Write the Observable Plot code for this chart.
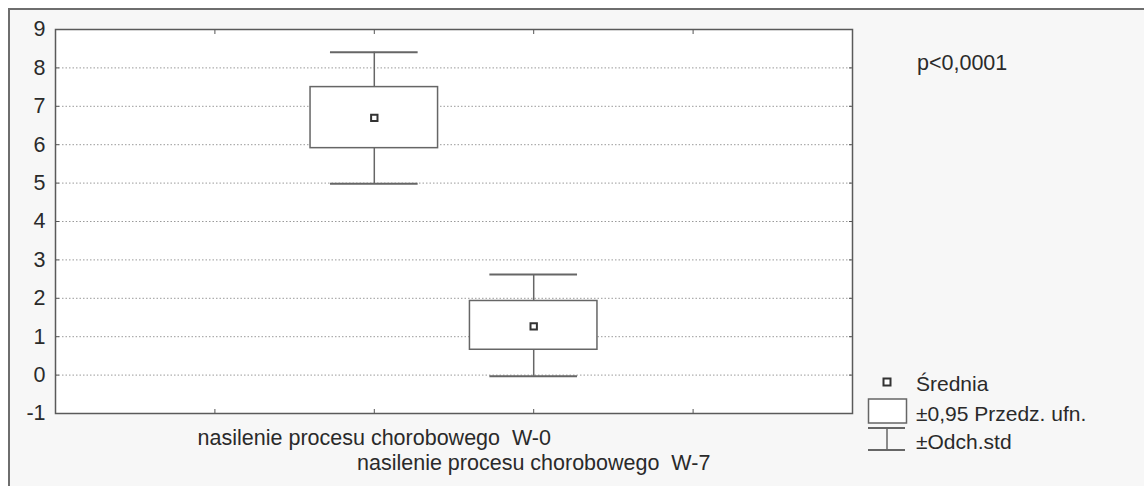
<!DOCTYPE html>
<html>
<head>
<meta charset="utf-8">
<script src="https://cdn.jsdelivr.net/npm/d3@7"></script>
<script src="https://cdn.jsdelivr.net/npm/@observablehq/plot@0.6"></script>
<style>
  html, body { margin: 0; padding: 0; background: #ffffff; }
  body { width: 1144px; height: 486px; position: relative; overflow: hidden; font-family: "Liberation Sans", Arial, sans-serif; }
  #frame { position: absolute; left: 8px; top: 8px; width: 1140px; height: 482px; background: #f7f7f7; border-left: 2px solid #6e6e6e; border-top: 2px solid #6e6e6e; }
  #chart { position: absolute; left: 0; top: 0; }
  #chart svg { background: transparent !important; }
  .note { position: absolute; font-size: 21.5px; color: #2a2a2a; white-space: nowrap; line-height: 1; }
  #legend { position: absolute; left: 864px; top: 370px; }
  .lg { position: absolute; white-space: nowrap; font-size: 21px; color: #2a2a2a; line-height: 1; }
</style>
</head>
<body>
<div id="frame"></div>
<div id="chart"></div>
<div class="note" style="left:917px; top:53px;">p&lt;0,0001</div>
<div id="legend"></div>
<script>
// ---- data ----
const categories = ["nasilenie procesu chorobowego  W-0", "nasilenie procesu chorobowego  W-7"];
const means  = [6.70, 1.27];
const ciLow  = [5.91, 0.66];
const ciHigh = [7.50, 1.93];
const sdLow  = [4.98, -0.03];
const sdHigh = [8.41, 2.62];
const yTicks = [-1, 0, 1, 2, 3, 4, 5, 6, 7, 8, 9];
const xSlots = [1, 2, 3, 4];
const legendLabels = ["Średnia", "±0,95 Przedz. ufn.", "±Odch.std"];

const rows = categories.map((c, i) => ({
  cat: c, pos: i + 2, mean: means[i], lo: ciLow[i], hi: ciHigh[i], sdLo: sdLow[i], sdHi: sdHigh[i], line: i
}));

const lineColor = "#666666";
const tickColor = "#555555";
const boxHalf = 0.4, capHalf = 0.275;

const chart = Plot.plot({
  width: 1144,
  height: 486,
  marginLeft: 55,
  marginRight: 292,
  marginTop: 29,
  marginBottom: 73,
  style: { fontFamily: "'Liberation Sans', Arial, sans-serif", fontSize: "21px", color: "#2a2a2a", background: "transparent" },
  x: { domain: [0, 5], axis: null },
  y: { domain: [-1, 9], axis: null },
  marks: [
    Plot.frame({ fill: "white", stroke: null }),
    Plot.gridY(yTicks.filter(d => d > -1 && d < 9), { stroke: "#9a9a9a", strokeOpacity: 1, strokeDasharray: "1.5,2", strokeWidth: 1 }),
    // y tick labels
    Plot.axisY(yTicks, { anchor: "left", tickSize: 0, tickPadding: 10, fontSize: 21.5, fill: "#2a2a2a", tickFormat: d => String(d), label: null }),
    // inward ticks
    Plot.axisY(yTicks, { anchor: "left", tickSize: 4, dx: 4, tickFormat: () => "", stroke: tickColor, label: null }),
    Plot.axisY(yTicks, { anchor: "right", tickSize: 4, dx: -4, tickFormat: () => "", stroke: tickColor, label: null }),
    Plot.axisX(xSlots, { anchor: "bottom", tickSize: 4, dy: -4, tickFormat: () => "", stroke: tickColor, label: null }),
    Plot.axisX(xSlots, { anchor: "top", tickSize: 4, dy: 4, tickFormat: () => "", stroke: tickColor, label: null }),
    // whiskers
    Plot.ruleX(rows, { x: "pos", y1: "hi", y2: "sdHi", stroke: lineColor, strokeWidth: 1.5 }),
    Plot.ruleX(rows, { x: "pos", y1: "sdLo", y2: "lo", stroke: lineColor, strokeWidth: 1.5 }),
    Plot.ruleY(rows, { y: "sdHi", x1: d => d.pos - capHalf, x2: d => d.pos + capHalf, stroke: lineColor, strokeWidth: 2 }),
    Plot.ruleY(rows, { y: "sdLo", x1: d => d.pos - capHalf, x2: d => d.pos + capHalf, stroke: lineColor, strokeWidth: 2 }),
    // CI box
    Plot.rect(rows, { x1: d => d.pos - boxHalf, x2: d => d.pos + boxHalf, y1: "lo", y2: "hi", fill: "white", stroke: lineColor, strokeWidth: 1.5 }),
    // mean
    Plot.dot(rows, { x: "pos", y: "mean", symbol: "square", r: 3.6, fill: "white", stroke: "#333", strokeWidth: 2 }),
    Plot.frame({ stroke: "#5a5a5a", strokeWidth: 1.5 }),
    // category labels (staggered on two lines)
    Plot.text(rows.filter(d => d.line === 0), { x: "pos", text: "cat", frameAnchor: "bottom", lineAnchor: "top", dy: 16, fontSize: 21.5, fill: "#2a2a2a" }),
    Plot.text(rows.filter(d => d.line === 1), { x: "pos", text: "cat", frameAnchor: "bottom", lineAnchor: "top", dy: 41, fontSize: 21.5, fill: "#2a2a2a" })
  ]
});
document.getElementById("chart").appendChild(chart);

// legend
const lg = document.getElementById("legend");
const items = [
  { svg: `<svg width="44" height="26"><rect x="19.5" y="8.5" width="7" height="7" fill="white" stroke="#333" stroke-width="2"/></svg>`, top: 0 },
  { svg: `<svg width="44" height="28"><rect x="4.5" y="2" width="38" height="24" fill="white" stroke="#666" stroke-width="1.5"/></svg>`, top: 27 },
  { svg: `<svg width="44" height="26"><line x1="4" x2="41" y1="2" y2="2" stroke="#666" stroke-width="2"/><line x1="4" x2="41" y1="24" y2="24" stroke="#666" stroke-width="2"/><line x1="23" x2="23" y1="2" y2="24" stroke="#666" stroke-width="1.5"/></svg>`, top: 56 }
];
items.forEach((it, i) => {
  const icon = document.createElement("div");
  icon.style.position = "absolute";
  icon.style.left = "0px";
  icon.style.top = it.top + "px";
  icon.innerHTML = it.svg;
  lg.appendChild(icon);
  const t = document.createElement("div");
  t.className = "lg";
  t.style.left = "52px";
  t.style.top = [3, 33, 61][i] + "px";
  t.textContent = legendLabels[i];
  lg.appendChild(t);
});
</script>
</body>
</html>
